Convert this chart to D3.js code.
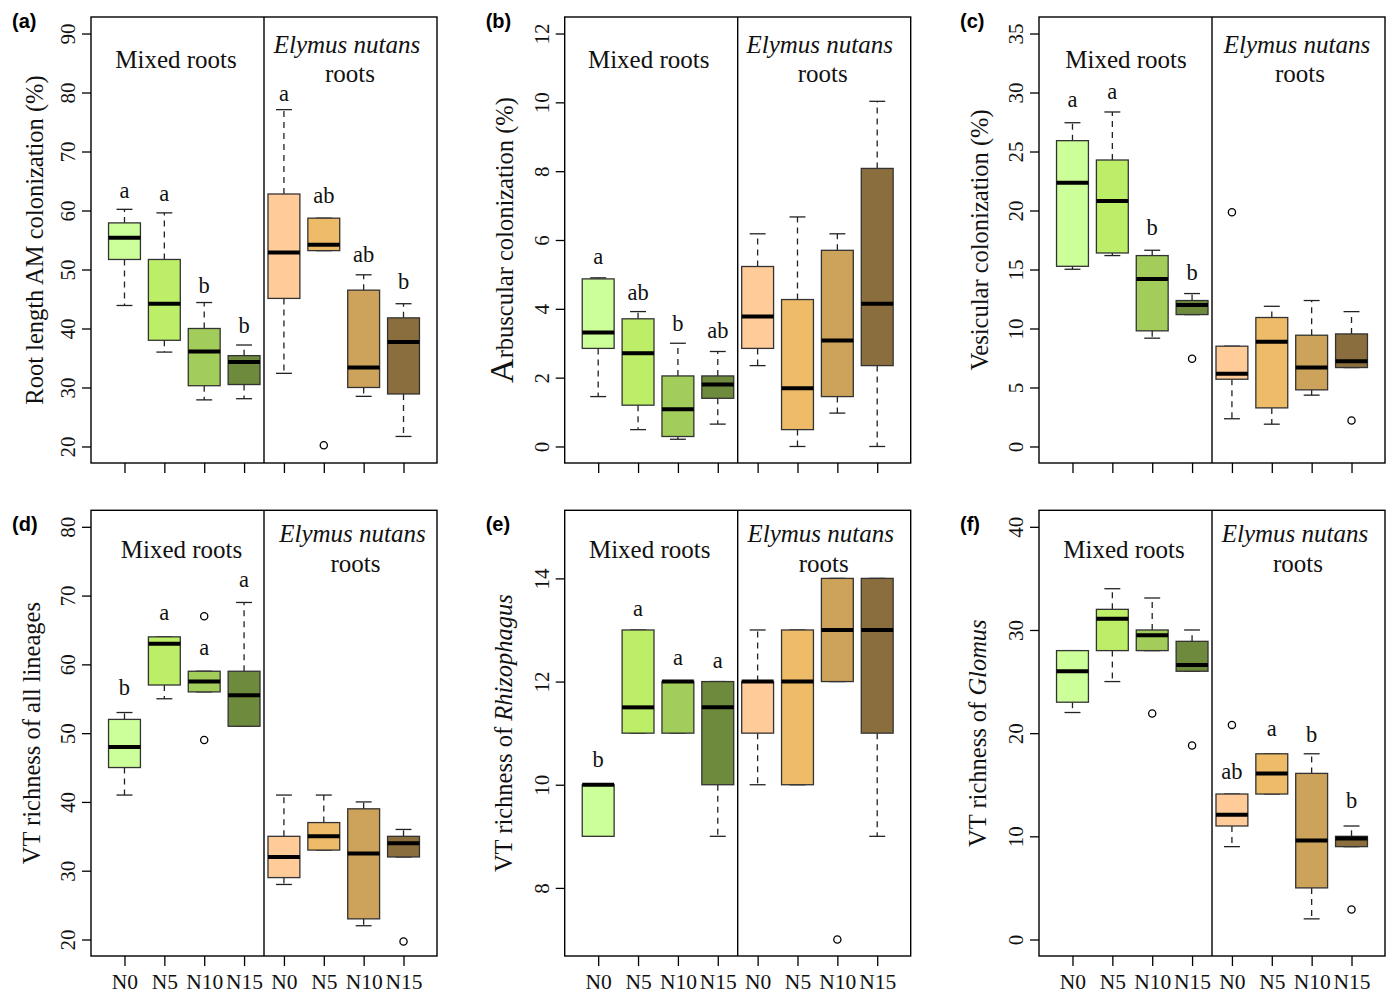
<!DOCTYPE html>
<html><head><meta charset="utf-8">
<script src="https://cdn.jsdelivr.net/npm/d3@7"></script>
<style>body{margin:0;background:#fff} svg{display:block}</style>
</head><body>
<svg id="chart" width="1392" height="993"></svg>
<script>
// ---------- DATA ----------
const groups = ["N0","N5","N10","N15","N0","N5","N10","N15"];
const fillColors = ["#CCFF99","#BCEE68","#A2CD5A","#6E8B3D","#FFCC99","#EEBC68","#CDA25A","#8B6E3D"];

// five-number summaries per box: [lower whisker, Q1, median, Q3, upper whisker]
const statsA = [
  [43.9, 51.7, 55.4, 57.9, 60.2],
  [36.0, 38.0, 44.2, 51.7, 59.6],
  [27.9, 30.3, 36.1, 40.0, 44.4],
  [28.1, 30.5, 34.3, 35.4, 37.2],
  [32.4, 45.1, 52.9, 62.8, 77.1],
  [53.2, 53.2, 54.2, 58.7, 58.7],
  [28.5, 30.0, 33.4, 46.5, 49.1],
  [21.7, 28.9, 37.7, 41.8, 44.2]
];
const outliersA = [[],[],[],[],[],[20.2],[],[]];
const lettersA = ["a","a","b","b","a","ab","ab","b"];
const letterYA = [62.2, 61.6, 46.1, 39.2, 78.5, 61.3, 51.2, 46.7];
const ticksA = [20,30,40,50,60,70,80,90];

const statsB = [
  [1.45, 2.85, 3.31, 4.87, 4.90],
  [0.49, 1.20, 2.71, 3.71, 3.92],
  [0.21, 0.29, 1.08, 2.05, 3.00],
  [0.65, 1.40, 1.80, 2.05, 2.76],
  [2.35, 2.85, 3.78, 5.23, 6.18],
  [0.00, 0.49, 1.69, 4.27, 6.67],
  [0.97, 1.45, 3.08, 5.70, 6.18],
  [0.00, 2.35, 4.15, 8.08, 10.03]
];
const outliersB = [[],[],[],[],[],[],[],[]];
const lettersB = ["a","ab","b","ab","","","",""];
const letterYB = [5.31, 4.25, 3.35, 3.16, 0, 0, 0, 0];
const ticksB = [0,2,4,6,8,10,12];

const statsC = [
  [15.02, 15.27, 22.36, 25.92, 27.44],
  [16.18, 16.40, 20.81, 24.28, 28.35],
  [9.18, 9.80, 14.20, 16.18, 16.63],
  [11.18, 11.18, 12.00, 12.37, 12.96],
  [2.35, 5.70, 6.16, 8.50, 8.50],
  [1.89, 3.27, 8.87, 10.93, 11.88],
  [4.35, 4.80, 6.69, 9.43, 12.37],
  [6.69, 6.69, 7.23, 9.54, 11.43]
];
const outliersC = [[],[],[],[7.43],[19.85],[],[],[2.2]];
const lettersC = ["a","a","b","b","","","",""];
const letterYC = [28.77, 29.44, 17.96, 14.15, 0, 0, 0, 0];
const ticksC = [0,5,10,15,20,25,30,35];

const statsD = [
  [41, 45, 48, 52, 53],
  [55, 57, 63, 64, 64],
  [56, 56, 57.5, 59, 59],
  [51, 51, 55.5, 59, 69],
  [28, 29, 32, 35, 41],
  [33, 33, 35, 37, 41],
  [22, 23, 32.5, 39, 40],
  [32, 32, 34, 35, 36]
];
const outliersD = [[],[],[67,49],[],[],[],[],[19.7]];
const lettersD = ["b","a","a","a","","","",""];
const letterYD = [55.55, 66.45, 61.36, 71.2, 0, 0, 0, 0];
const ticksD = [20,30,40,50,60,70,80];

const statsE = [
  [9, 9, 10, 10, 10],
  [11, 11, 11.5, 13, 13],
  [11, 11, 12, 12, 12],
  [9, 10, 11.5, 12, 12],
  [10, 11, 12, 12, 13],
  [10, 10, 12, 13, 13],
  [12, 12, 13, 14, 14],
  [9, 11, 13, 14, 14]
];
const outliersE = [[],[],[],[],[],[],[7],[]];
const lettersE = ["b","a","a","a","","","",""];
const letterYE = [10.34, 13.28, 12.33, 12.27, 0, 0, 0, 0];
const ticksE = [8,10,12,14];

const statsF = [
  [22, 23, 26, 28, 28],
  [25, 28, 31.1, 32, 34],
  [28, 28, 29.5, 30, 33.1],
  [26, 26, 26.6, 28.9, 30],
  [9, 11, 12.1, 14.1, 14.1],
  [14.1, 14.1, 16.1, 18, 18],
  [2, 5, 9.6, 16.1, 18],
  [9, 9, 9.8, 10, 11]
];
const outliersF = [[],[],[21.9],[18.8],[20.8],[],[],[2.9]];
const lettersF = ["","","","","ab","a","b","b"];
const letterYF = [0, 0, 0, 0, 15.56, 19.76, 19.18, 12.73];
const ticksF = [0,10,20,30,40];

// ---------- LAYOUT ----------
const W = 1392, H = 993;
const colLeft = [91, 564.7, 1039];
const plotW = 346;
const rowTop = [17, 510.3];
const rowBottom = [463, 956];
const titleOff = [[51, 36, 65], [47.7, 31.7, 61.7]];
const labelBase = [28, 531];
const serif = "'Liberation Serif','Times New Roman',serif";
const sans = "'Liberation Sans',Arial,sans-serif";

const panels = [
  {tag:"(a)", col:0, row:0, stats:statsA, out:outliersA, let:lettersA, ly:letterYA, ticks:ticksA, ylim:[20,90], yoff:-48, mx:85, ex:256,
   ylab:[{t:"Root length AM colonization (%)"}]},
  {tag:"(b)", col:1, row:0, stats:statsB, out:outliersB, let:lettersB, ly:letterYB, ticks:ticksB, ylim:[0,12], yoff:-52, mx:84, ex:255,
   ylab:[{t:"A", size:34},{t:"rbuscular colonization (%)"}]},
  {tag:"(c)", col:2, row:0, stats:statsC, out:outliersC, let:lettersC, ly:letterYC, ticks:ticksC, ylim:[0,35], yoff:-51, mx:87, ex:258,
   ylab:[{t:"Vesicular colonization (%)"}]},
  {tag:"(d)", col:0, row:1, stats:statsD, out:outliersD, let:lettersD, ly:letterYD, ticks:ticksD, ylim:[20,80], yoff:-51, mx:90.5, ex:261.5,
   ylab:[{t:"VT richness of all lineages"}]},
  {tag:"(e)", col:1, row:1, stats:statsE, out:outliersE, let:lettersE, ly:letterYE, ticks:ticksE, ylim:[7,15], yoff:-53, mx:85, ex:256,
   ylab:[{t:"VT richness of "},{t:"Rhizophagus", it:true}]},
  {tag:"(f)", col:2, row:1, stats:statsF, out:outliersF, let:lettersF, ly:letterYF, ticks:ticksF, ylim:[0,40], yoff:-53, mx:85, ex:256,
   ylab:[{t:"VT richness of "},{t:"Glomus", it:true}]}
];

const svg = d3.select("#chart");
svg.append("rect").attr("width", W).attr("height", H).attr("fill", "#fff");

panels.forEach(p => {
  const left = colLeft[p.col], right = left + plotW;
  const top = rowTop[p.row], bottom = rowBottom[p.row];
  const g = svg.append("g");
  const x = d3.scaleLinear().domain([0.16, 8.84]).range([left, right]);
  const ext = (p.ylim[1] - p.ylim[0]) * 0.04;
  const y = d3.scaleLinear().domain([p.ylim[0] - ext, p.ylim[1] + ext]).range([bottom, top]);

  // y axis
  const ya = g.append("g").attr("transform", `translate(${left},0)`)
    .call(d3.axisLeft(y).tickValues(p.ticks).tickSize(9).tickFormat(d3.format("d")));
  ya.attr("font-family", serif);
  ya.select(".domain").remove();
  ya.selectAll("line").attr("stroke", "#000").attr("stroke-width", 1.3);
  ya.selectAll("text").attr("x", null).attr("dy", null)
    .attr("transform", "translate(-16,0) rotate(-90)")
    .attr("text-anchor", "middle")
    .attr("font-family", serif).attr("font-size", 21).attr("fill", "#111");

  // x axis
  const xa = g.append("g").attr("transform", `translate(0,${bottom})`)
    .call(d3.axisBottom(x).tickValues(d3.range(1, 9)).tickSize(10)
      .tickFormat(d => p.row === 1 ? groups[d - 1] : ""));
  xa.attr("font-family", serif);
  xa.select(".domain").remove();
  xa.selectAll("line").attr("stroke", "#000").attr("stroke-width", 1.3);
  xa.selectAll("text").attr("y", 33).attr("dy", null)
    .attr("font-family", serif).attr("font-size", 21.5).attr("fill", "#111");

  // boxes
  p.stats.forEach((s, i) => {
    const xi = i + 1;
    const [lo, q1, med, q3, hi] = s;
    const bx = g.append("g");
    if (hi > q3) bx.append("line").attr("x1", x(xi)).attr("x2", x(xi)).attr("y1", y(q3)).attr("y2", y(hi))
      .attr("stroke", "#222").attr("stroke-width", 1.3).attr("stroke-dasharray", "6,5");
    if (lo < q1) bx.append("line").attr("x1", x(xi)).attr("x2", x(xi)).attr("y1", y(q1)).attr("y2", y(lo))
      .attr("stroke", "#222").attr("stroke-width", 1.3).attr("stroke-dasharray", "6,5");
    [lo, hi].forEach(v => bx.append("line").attr("x1", x(xi - 0.2)).attr("x2", x(xi + 0.2))
      .attr("y1", y(v)).attr("y2", y(v)).attr("stroke", "#222").attr("stroke-width", 1.3));
    bx.append("rect").attr("x", x(xi - 0.4)).attr("width", x(xi + 0.4) - x(xi - 0.4))
      .attr("y", y(q3)).attr("height", Math.max(0.5, y(q1) - y(q3)))
      .attr("fill", fillColors[i]).attr("stroke", "#333").attr("stroke-width", 1.3);
    bx.append("line").attr("x1", x(xi - 0.4)).attr("x2", x(xi + 0.4)).attr("y1", y(med)).attr("y2", y(med))
      .attr("stroke", "#000").attr("stroke-width", 4);
    p.out[i].forEach(v => bx.append("circle").attr("cx", x(xi)).attr("cy", y(v)).attr("r", 3.6)
      .attr("fill", "none").attr("stroke", "#000").attr("stroke-width", 1.3));
    if (p.let[i]) g.append("text").attr("x", x(xi)).attr("y", y(p.ly[i])).attr("text-anchor", "middle")
      .attr("font-family", serif).attr("font-size", 22.5).attr("fill", "#111").text(p.let[i]);
  });

  // frame and divider
  g.append("rect").attr("x", left).attr("y", top).attr("width", right - left).attr("height", bottom - top)
    .attr("fill", "none").attr("stroke", "#000").attr("stroke-width", 1.4);
  g.append("line").attr("x1", x(4.5)).attr("x2", x(4.5)).attr("y1", top).attr("y2", bottom)
    .attr("stroke", "#000").attr("stroke-width", 1.4);

  // titles
  const to = titleOff[p.row];
  g.append("text").attr("x", left + p.mx).attr("y", top + to[0]).attr("text-anchor", "middle")
    .attr("font-family", serif).attr("font-size", 25).attr("fill", "#111").text("Mixed roots");
  g.append("text").attr("x", left + p.ex).attr("y", top + to[1]).attr("text-anchor", "middle")
    .attr("font-family", serif).attr("font-style", "italic").attr("font-size", 25).attr("fill", "#111").text("Elymus nutans");
  g.append("text").attr("x", left + p.ex + 3).attr("y", top + to[2]).attr("text-anchor", "middle")
    .attr("font-family", serif).attr("font-size", 25).attr("fill", "#111").text("roots");

  // y label
  const yl = g.append("text")
    .attr("transform", `translate(${left + p.yoff},${(top + bottom) / 2}) rotate(-90)`)
    .attr("text-anchor", "middle").attr("font-family", serif).attr("font-size", 24.5).attr("fill", "#111");
  p.ylab.forEach(seg => {
    const ts = yl.append("tspan").text(seg.t);
    if (seg.it) ts.attr("font-style", "italic");
    if (seg.size) ts.attr("font-size", seg.size);
  });

  // panel tag
  g.append("text").attr("x", left - 79).attr("y", labelBase[p.row])
    .attr("font-family", sans).attr("font-weight", "bold").attr("font-size", 20).attr("fill", "#000").text(p.tag);
});
</script>
</body></html>
